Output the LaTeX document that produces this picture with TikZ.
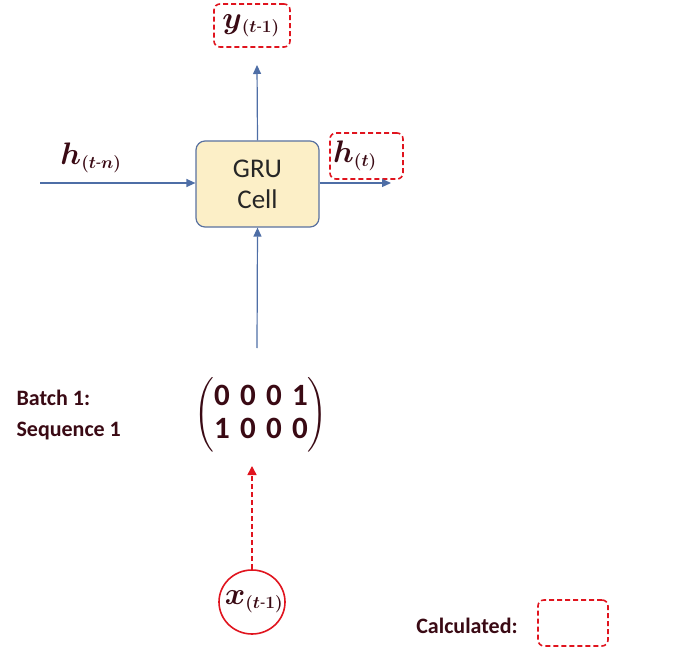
\documentclass[tikz,border=0pt]{standalone}
\usepackage{amsmath}
\usepackage{graphicx}
\usepackage{fontspec}
\setmainfont{Carlito}
\usepackage{tikz}
\usetikzlibrary{positioning, arrows.meta, shapes.geometric}

\definecolor{arrowblue}{HTML}{4E6EA6}
\definecolor{cellfill}{HTML}{FCEFC7}
\definecolor{cellline}{HTML}{5A72A0}
\definecolor{txt}{HTML}{3A0A14}
\definecolor{calcred}{HTML}{E0141E}

\newcommand{\bigvar}[2]{\scalebox{1.25}{$#1$}\scalebox{1.0}{$_{#2}$}}

\begin{document}
\begin{tikzpicture}[x=1pt, y=-1pt,
    calc/.style={draw=calcred, dashed, line width=1.6pt, rounded corners=6pt, dash pattern=on 5pt off 3pt},
    flow/.style={draw=arrowblue, line width=1.2pt, -{Triangle[length=9pt, width=8pt]}},
    var/.style={text=txt, inner sep=0pt, font=\boldmath\fontsize{24}{26}\selectfont}]
    \useasboundingbox (0,0) rectangle (675,650);

    \node[draw=cellline, fill=cellfill, line width=1.2pt, rounded corners=9pt, minimum width=123pt, minimum height=86pt,
          align=center, font=\fontsize{27}{31}\selectfont, text=black!85] (cell) at (257.5,184) {GRU\\Cell};

    \node[calc, minimum width=76pt, minimum height=43pt] (ybox) at (252,25.5) {};
    \node[var] (y) at (251,26) {\bigvar{y}{(t\text{-}1)}};

    \node[calc, minimum width=73pt, minimum height=46pt] (hbox) at (366.5,156) {};
    \node[var] (ht) at (355,156) {\bigvar{h}{(t)}};

    \node[var] (hn) at (91,158) {\bigvar{h}{(t\text{-}n)}};
    \coordinate (hin) at (40,183);
    \coordinate (hout) at (391,183);
    \coordinate (xin) at (257,348);

    \node[text=txt, font=\bfseries\fontsize{22}{31}\selectfont, align=left, anchor=west] (batch) at (13,415) {Batch 1:\\Sequence 1};

    \node[text=txt, font=\bfseries\fontsize{31}{34}\selectfont] (mat) at (261,415)
        {$\begin{pmatrix}\text{\bfseries 0\,\,0\,\,0\,\,1}\\[-1pt]\text{\bfseries 1\,\,0\,\,0\,\,0}\end{pmatrix}$};

    \node[draw=calcred, line width=1.6pt, ellipse, minimum width=66pt, minimum height=64pt] (x) at (252,602) {};
    \node[var] (xl) at (254,602) {\bigvar{x}{(t\text{-}1)}};

    \node[text=txt, font=\bfseries\fontsize{22}{24}\selectfont] (calctext) at (467,626) {Calculated:};
    \node[calc, minimum width=70pt, minimum height=46pt] (calcbox) at (573,623) {};

    \draw[flow] (hin) -- (cell.west |- hin);
    \draw[flow] (cell.east |- hout) -- (hout);
    \draw[flow] (cell.north) -- (257,65);
    \draw[flow] (xin) -- (cell.south);
    \draw[draw=calcred, line width=1.5pt, dash pattern=on 5pt off 3pt, -{Triangle[length=9pt, width=9pt]}] (x.north) -- (252,466);
\end{tikzpicture}
\end{document}
